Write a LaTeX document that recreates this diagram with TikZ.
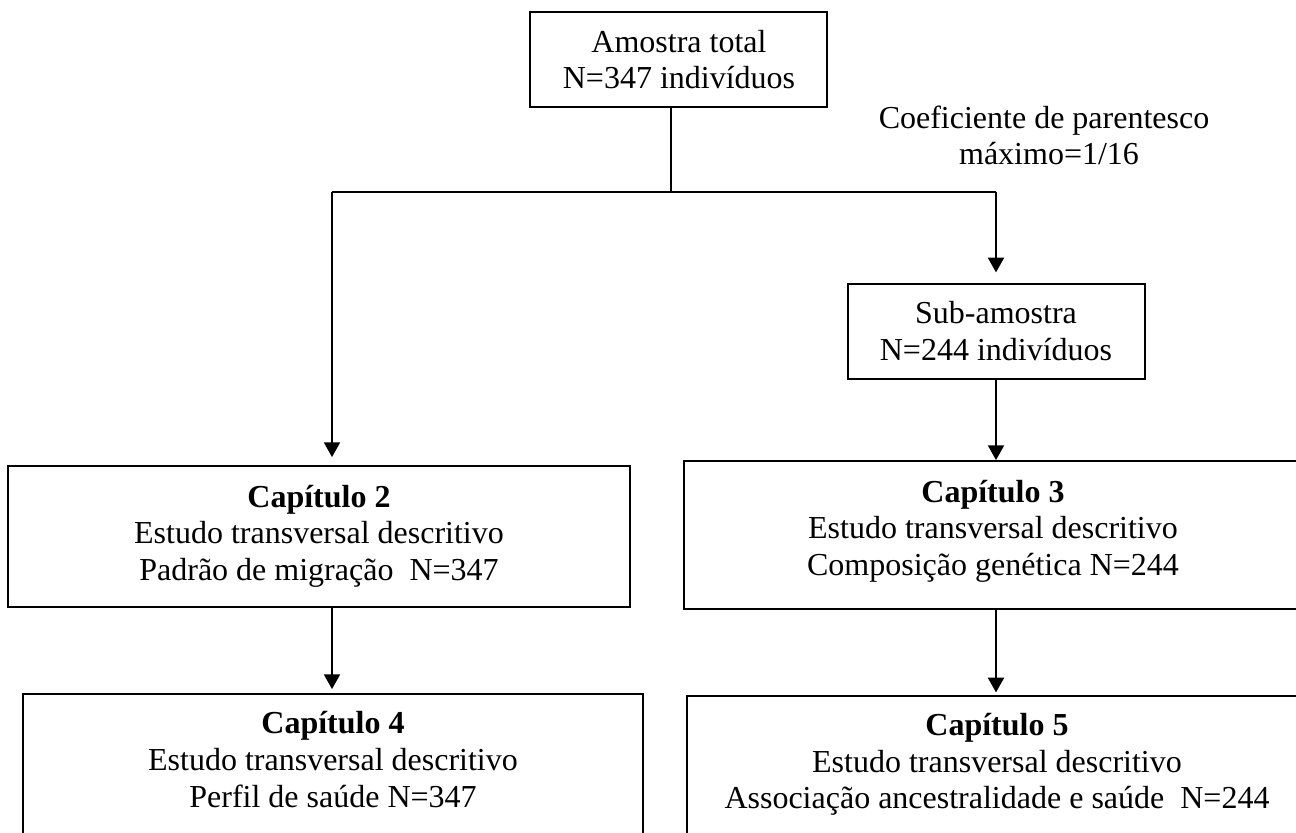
\documentclass[tikz,border=0pt]{standalone}
\usepackage{fontspec}
\setmainfont{Liberation Serif}
\usetikzlibrary{arrows.meta,fit}
\begin{document}
\begin{tikzpicture}[x=0.75pt,y=-0.75pt,
  box/.style={draw, line width=1.4pt, inner sep=0pt, rectangle},
  txt/.style={font=\fontsize{24}{29}\selectfont, anchor=base, inner sep=0pt},
  btxt/.style={font=\fontsize{24}{29}\selectfont\bfseries, anchor=base, inner sep=0pt},
  conn/.style={line width=1.2pt},
  arr/.style={conn, -{Triangle[width=12pt,length=11pt]}}]
\useasboundingbox (0,0) rectangle (1296,832);
\fill[white] (0,0) rectangle (1296,832);
\clip (0,0) rectangle (1296,832);

% boxes
\node[box, fit={(530,12) (827,107)}] (top) {};
\node[box, fit={(848,284) (1145,379)}] (sub) {};
\node[box, fit={(8,466) (630,607)}] (cap2) {};
\node[box, fit={(684,461) (1320,609)}] (cap3) {};
\node[box, fit={(23,694) (643,860)}] (cap4) {};
\node[box, fit={(687,696) (1320,860)}] (cap5) {};

% texts
\node[txt] (topa) at (679,52) {Amostra total};
\node[txt] (topb) at (679,88) {N=347 indivíduos};
\node[txt] (coefa) at (1044,128) {Coeficiente de parentesco};
\node[txt] (coefb) at (1049,164) {máximo=1/16};
\node[txt] (suba) at (996,323) {Sub-amostra};
\node[txt] (subb) at (996,360) {N=244 indivíduos};

\node[btxt] (cap2a) at (319,507) {Capítulo 2};
\node[txt] (cap2b) at (319,543) {Estudo transversal descritivo};
\node[txt] (cap2c) at (319,580) {Padrão de migração\ \ N=347};

\node[btxt] (cap3a) at (993,502) {Capítulo 3};
\node[txt] (cap3b) at (993,538) {Estudo transversal descritivo};
\node[txt] (cap3c) at (993,575) {Composição genética N=244};

\node[btxt] (cap4a) at (333,733) {Capítulo 4};
\node[txt] (cap4b) at (333,770) {Estudo transversal descritivo};
\node[txt] (cap4c) at (333,807) {Perfil de saúde N=347};

\node[btxt] (cap5a) at (997,735) {Capítulo 5};
\node[txt] (cap5b) at (997,772) {Estudo transversal descritivo};
\node[txt] (cap5c) at (997,808) {Associação ancestralidade e saúde\ \ N=244};

% connectors
\coordinate (jc) at (671,192);
\coordinate (jl) at (332,192);
\coordinate (jr) at (996,192);
\draw[conn] (top.south -| jc) -- (jc);
\draw[conn] (jl) -- (jr);
\draw[arr, shorten >=6pt] (jl) -- (jl |- cap2.north);
\draw[arr, shorten >=8pt] (jr) -- (jr |- sub.north);
\draw[arr] (sub.south -| jr) -- (jr |- cap3.north);
\draw[arr, shorten >=3pt] (cap2.south -| jl) -- (jl |- cap4.north);
\draw[arr, shorten >=2pt] (cap3.south -| jr) -- (jr |- cap5.north);
\end{tikzpicture}
\end{document}
